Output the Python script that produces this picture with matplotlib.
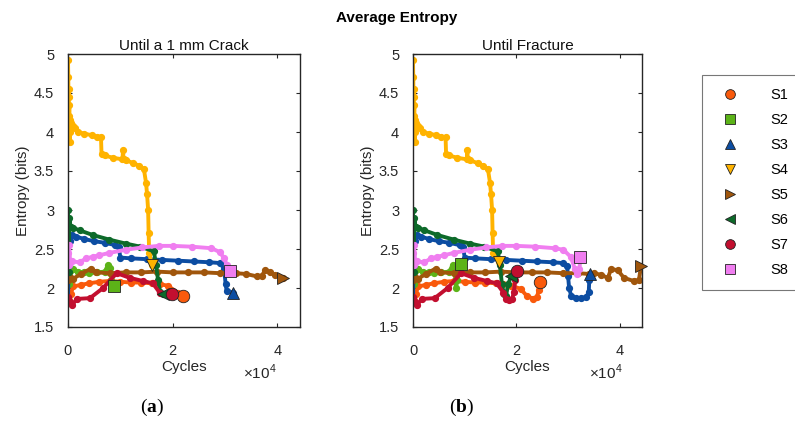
import matplotlib
matplotlib.use("Agg")
import matplotlib.pyplot as plt
from matplotlib.lines import Line2D
from matplotlib.ticker import FuncFormatter

plt.rcParams["font.family"] = ["Liberation Sans", "DejaVu Sans"]
plt.rcParams["mathtext.fontset"] = "custom"
plt.rcParams["mathtext.rm"] = "Liberation Sans"
plt.rcParams["mathtext.bf"] = "Liberation Serif:bold"

# ---- data: until a 1 mm crack (cycles, entropy in bits) ----
s1_crack_x = [0, 200, 500, 1000, 2500, 4000, 6000, 8000, 10000, 12000, 14000, 16000, 17500, 19000, 21000, 22000]
s1_crack_y = [1.95, 1.85, 1.92, 2.02, 2.04, 2.06, 2.08, 2.09, 2.08, 2.07, 2.07, 2.06, 2.05, 2.03, 1.94, 1.90]
s2_crack_x = [0, 150, 400, 1000, 2000, 3000, 4000, 5500, 7000, 7700, 8000, 8300, 8700]
s2_crack_y = [2.25, 2.05, 2.22, 2.24, 2.21, 2.20, 2.19, 2.20, 2.21, 2.30, 2.26, 2.10, 2.02]
s3_crack_x = [0, 100, 200, 400, 800, 1500, 3000, 5000, 7000, 9000, 9700, 10000, 12000, 15000, 18000,
              21000, 24000, 27000, 29000, 29800, 30100, 30300, 31600]
s3_crack_y = [1.85, 2.30, 2.65, 2.60, 2.68, 2.66, 2.63, 2.60, 2.58, 2.55, 2.52, 2.39, 2.38, 2.37, 2.36,
              2.35, 2.34, 2.33, 2.32, 2.25, 2.05, 1.96, 1.94]
s4_crack_x = [0, 50, 100, 150, 200, 250, 300, 350, 450, 600, 900, 1300, 2000, 3000, 4500, 5500, 6300, 6400,
              7000, 8500, 10400, 10500, 10600, 11000, 12500, 13500, 14500, 14900, 15100, 15300, 15400, 15500, 16000]
s4_crack_y = [4.92, 4.70, 4.45, 4.55, 4.20, 4.35, 3.87, 4.15, 4.00, 4.12, 4.08, 4.05, 4.00, 3.98, 3.96, 3.94, 3.93, 3.72,
              3.70, 3.67, 3.65, 3.77, 3.66, 3.64, 3.60, 3.57, 3.52, 3.35, 3.20, 3.00, 2.70, 2.45, 2.30]
s5_crack_x = [0, 300, 1000, 2500, 4400, 5300, 8000, 11000, 14000, 17000, 20000, 23000, 26000, 29000, 32000,
              34000, 36000, 37000, 37700, 38500, 39500, 41000]
s5_crack_y = [2.10, 2.14, 2.12, 2.18, 2.25, 2.20, 2.19, 2.20, 2.20, 2.21, 2.20, 2.20, 2.20, 2.19, 2.19,
              2.18, 2.15, 2.16, 2.23, 2.20, 2.17, 2.13]
s6_crack_x = [0, 50, 100, 150, 250, 500, 1000, 2200, 4700, 7900, 11000, 13800, 16400, 16800, 17200, 17600, 18200]
s6_crack_y = [3.00, 2.30, 2.80, 2.20, 2.90, 2.78, 2.77, 2.74, 2.68, 2.62, 2.57, 2.53, 2.47, 2.30, 2.10, 1.95, 1.92]
s7_crack_x = [0, 300, 760, 1700, 4200, 6700, 9300, 11800, 14300, 16200, 17500, 19800]
s7_crack_y = [1.88, 1.82, 1.78, 1.86, 1.87, 2.00, 2.19, 2.13, 2.09, 2.06, 1.94, 1.92]
s8_crack_x = [0, 100, 200, 400, 800, 2200, 3500, 4700, 6000, 7900, 11000, 14200, 17300, 20000, 23600,
              27400, 29000, 29800, 30300, 31000]
s8_crack_y = [2.45, 2.30, 2.55, 2.35, 2.34, 2.33, 2.38, 2.40, 2.42, 2.45, 2.49, 2.52, 2.54, 2.54, 2.53,
              2.51, 2.46, 2.38, 2.30, 2.22]

# ---- data: until fracture ----
s1_frac_x = [0, 200, 500, 1000, 2500, 4000, 6000, 8000, 10000, 12000, 14000, 16000, 17500, 19000, 20800,
             22000, 23300, 24000, 24300, 24500]
s1_frac_y = [1.95, 1.85, 1.92, 2.02, 2.04, 2.06, 2.08, 2.09, 2.08, 2.07, 2.07, 2.06, 2.05, 2.03, 1.99,
             1.90, 1.86, 1.88, 1.98, 2.08]
s2_frac_x = [0, 150, 400, 1000, 2000, 3000, 4000, 5500, 7000, 7700, 8000, 8300, 8600, 9000, 9300]
s2_frac_y = [2.25, 2.05, 2.22, 2.24, 2.21, 2.20, 2.19, 2.20, 2.21, 2.30, 2.26, 2.00, 2.10, 2.25, 2.31]
s3_frac_x = [0, 100, 200, 400, 800, 1500, 3000, 5000, 7000, 9000, 9700, 10000, 12000, 15000, 18000,
             21000, 24000, 27000, 29000, 29800, 30000, 30200, 30600, 31500, 32500, 33500, 34000, 34100, 34200]
s3_frac_y = [1.85, 2.30, 2.65, 2.60, 2.68, 2.66, 2.63, 2.60, 2.58, 2.55, 2.52, 2.39, 2.38, 2.37, 2.36,
             2.35, 2.34, 2.33, 2.32, 2.28, 2.15, 2.00, 1.90, 1.87, 1.87, 1.88, 1.95, 2.10, 2.18]
s4_frac_x = [0, 50, 100, 150, 200, 250, 300, 350, 450, 600, 900, 1300, 2000, 3000, 4500, 5500, 6300, 6400,
             7000, 8500, 10400, 10500, 10600, 11000, 12500, 13500, 14500, 14900, 15100, 15300, 15400, 15500, 16600]
s4_frac_y = [4.92, 4.70, 4.45, 4.55, 4.20, 4.35, 3.87, 4.15, 4.00, 4.12, 4.08, 4.05, 4.00, 3.98, 3.96, 3.94, 3.93, 3.72,
             3.70, 3.67, 3.65, 3.77, 3.66, 3.64, 3.60, 3.57, 3.52, 3.35, 3.20, 3.00, 2.70, 2.45, 2.33]
s5_frac_x = [0, 300, 1000, 2500, 4400, 5300, 8000, 11000, 14000, 17000, 20000, 23000, 26000, 29000, 32000,
             34000, 35000, 36300, 37700, 38300, 39600, 40800, 42700, 43700, 44100]
s5_frac_y = [2.10, 2.14, 2.12, 2.18, 2.25, 2.20, 2.19, 2.20, 2.20, 2.21, 2.20, 2.20, 2.20, 2.19, 2.19,
             2.18, 2.19, 2.17, 2.13, 2.24, 2.23, 2.13, 2.09, 2.10, 2.28]
s6_frac_x = [0, 50, 100, 150, 250, 500, 1000, 2200, 4700, 7900, 11000, 13800, 16400, 16800, 17200, 17600,
             18000, 18400, 19000]
s6_frac_y = [3.00, 2.30, 2.80, 2.20, 2.90, 2.78, 2.77, 2.74, 2.68, 2.62, 2.57, 2.53, 2.47, 2.30, 2.05, 1.92,
             1.90, 2.05, 2.15]
s7_frac_x = [0, 300, 760, 1700, 4200, 6700, 9300, 11800, 14300, 16200, 17500, 18000, 18500, 19200, 19500,
             19800, 20200]
s7_frac_y = [1.88, 1.82, 1.78, 1.86, 1.87, 2.00, 2.19, 2.13, 2.09, 2.06, 1.94, 1.86, 1.84, 1.86, 1.95,
             2.10, 2.22]
s8_frac_x = [0, 100, 200, 400, 800, 2200, 3500, 4700, 6000, 7900, 11000, 14200, 17300, 20000, 23600,
             27400, 29100, 30500, 31300, 31800, 32200, 32400]
s8_frac_y = [2.45, 2.30, 2.55, 2.35, 2.34, 2.33, 2.38, 2.40, 2.42, 2.45, 2.49, 2.52, 2.54, 2.54, 2.53,
             2.51, 2.49, 2.40, 2.25, 2.18, 2.25, 2.40]

labels = ["S1", "S2", "S3", "S4", "S5", "S6", "S7", "S8"]
colors = ["#f95a0c", "#5cb318", "#0c4da2", "#ffb300", "#a0560c", "#0d6a2a", "#c20f2f", "#f07ef0"]
markers = ["o", "s", "^", "v", ">", "<", "o", "s"]

crack = [(s1_crack_x, s1_crack_y), (s2_crack_x, s2_crack_y), (s3_crack_x, s3_crack_y), (s4_crack_x, s4_crack_y),
         (s5_crack_x, s5_crack_y), (s6_crack_x, s6_crack_y), (s7_crack_x, s7_crack_y), (s8_crack_x, s8_crack_y)]
frac = [(s1_frac_x, s1_frac_y), (s2_frac_x, s2_frac_y), (s3_frac_x, s3_frac_y), (s4_frac_x, s4_frac_y),
        (s5_frac_x, s5_frac_y), (s6_frac_x, s6_frac_y), (s7_frac_x, s7_frac_y), (s8_frac_x, s8_frac_y)]

W, H = 795, 423


def rect(x0, y0, x1, y1):
    return [x0 / W, 1 - y1 / H, (x1 - x0) / W, (y1 - y0) / H]


fig = plt.figure(figsize=(W / 100, H / 100), dpi=100)
fig.patch.set_facecolor("white")

ax_a = fig.add_axes(rect(68, 54, 300, 327))
ax_b = fig.add_axes(rect(413, 54, 642, 327))

for ax, data, title in [(ax_a, crack, "Until a 1 mm Crack"), (ax_b, frac, "Until Fracture")]:
    for (x, y), c in zip(data, colors):
        ax.plot(x, y, "-o", color=c, lw=2.8, ms=4.2, mec=c, zorder=2)
    for (x, y), c, m in zip(data, colors, markers):
        ax.plot(x[-1], y[-1], marker=m, color=c, ms=9, mec="#222222", mew=0.6, ls="none",
                zorder=5, clip_on=False)
    ax.set_xlim(0, 44300)
    ax.set_ylim(1.5, 5)
    ax.set_xticks([0, 20000, 40000])
    ax.set_yticks([1.5, 2, 2.5, 3, 3.5, 4, 4.5, 5])
    ax.xaxis.set_major_formatter(FuncFormatter(lambda v, p: f"{v / 1e4:g}"))
    ax.yaxis.set_major_formatter(FuncFormatter(lambda v, p: f"{v:g}"))
    ax.tick_params(direction="in", top=True, right=True, length=3, width=0.8, labelsize=10.5,
                   colors="#262626")
    ax.tick_params(axis="x", pad=12)
    ax.tick_params(axis="y", pad=10)
    for sp in ax.spines.values():
        sp.set_linewidth(1.0)
        sp.set_color("#262626")
    ax.set_title(title, fontsize=11, pad=3, color="#111111")
    ax.set_xlabel("Cycles", fontsize=11, labelpad=2, color="#262626")
    ax.set_ylabel("Entropy (bits)", fontsize=11, labelpad=3, color="#262626")

for xc in (260, 606):
    fig.text(xc / W, 1 - 372 / H, r"×10$^{4}$", fontsize=11, ha="center", va="center", color="#262626")

fig.text(397 / W, 1 - 18 / H, "Average Entropy", fontsize=11, weight="bold", ha="center", va="center")
fig.text(152 / W, 1 - 407 / H, r"($\mathbf{a}$)", fontsize=14, ha="center", va="center",
         family="Liberation Serif")
fig.text(462 / W, 1 - 407 / H, r"($\mathbf{b}$)", fontsize=14, ha="center", va="center",
         family="Liberation Serif")

handles = [Line2D([], [], marker=m, color=c, mec="#222222", mew=0.6, ms=7, ls="none")
           for m, c in zip(markers, colors)]
leg = fig.legend(handles, labels, loc="upper left", bbox_to_anchor=(702 / W, 1 - 75 / H),
                 fontsize=10.5, frameon=True, fancybox=False, borderpad=0.9, labelspacing=0.75,
                 handletextpad=1.8, borderaxespad=0, handlelength=2.0)
leg.get_frame().set_edgecolor("#555555")
leg.get_frame().set_linewidth(0.8)

fig.savefig("out.png", dpi=100)
